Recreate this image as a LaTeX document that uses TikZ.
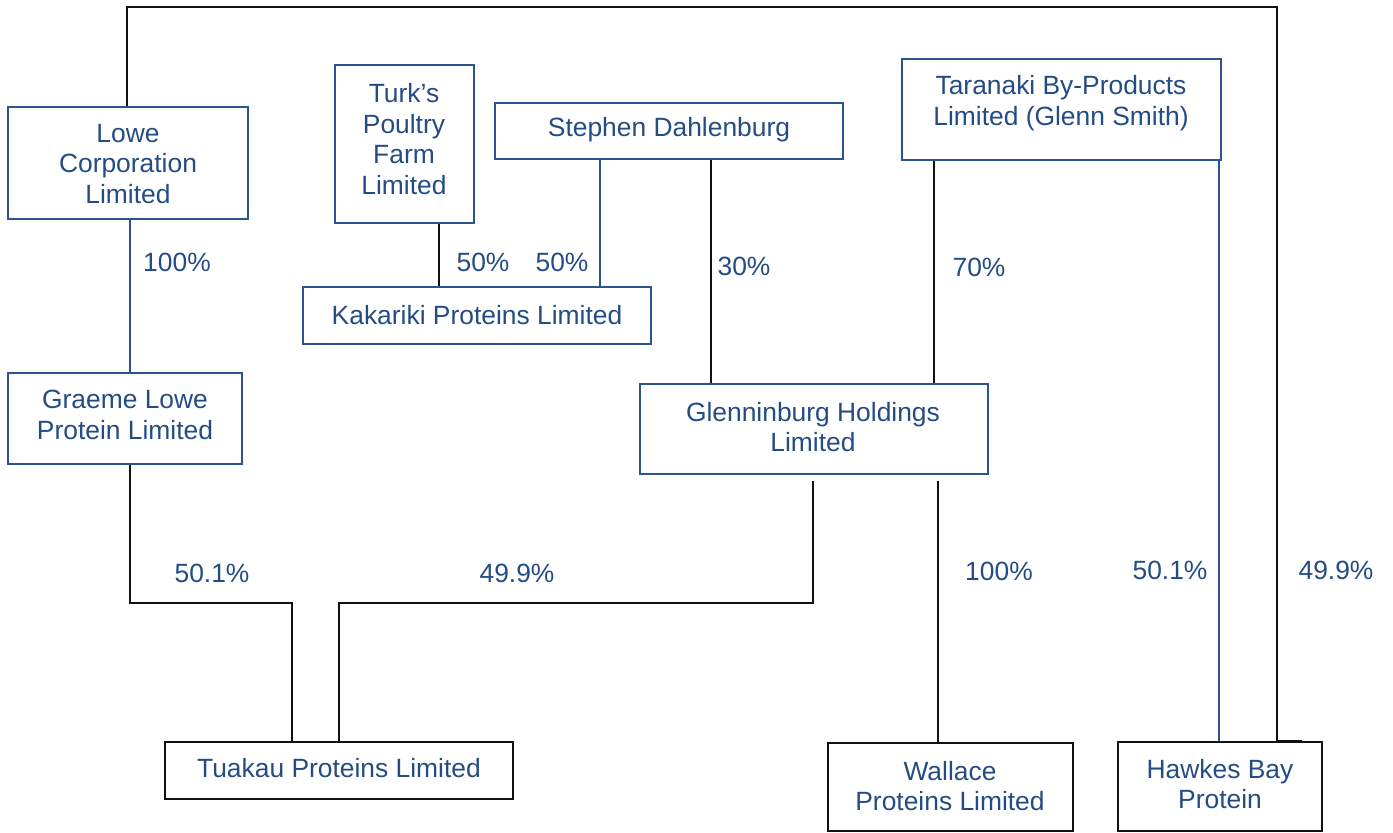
\documentclass[tikz,border=0pt]{standalone}
\usepackage{fontspec}
\setmainfont{Liberation Sans}
\usetikzlibrary{fit}
\definecolor{txtblue}{RGB}{36,76,132}
\definecolor{lineblue}{RGB}{44,84,145}
\definecolor{lineblack}{RGB}{17,17,17}
\begin{document}
\begin{tikzpicture}[x=0.5pt,y=-0.5pt,
  box/.style={draw=lineblue,line width=1pt,inner sep=0pt},
  kbox/.style={box,draw=lineblack},
  txt/.style={text=txtblue,align=center,inner sep=0pt,font=\fontsize{13.2}{15.4}\selectfont},
  bl/.style={draw=lineblue,line width=1pt},
  bk/.style={draw=lineblack,line width=1pt}]
\useasboundingbox (0,0) rectangle (1393,832);
% boxes
\node[box,fit={(8,107)(248,219)}] (lowe) {};
\node[txt] (lowetext) at (128,164) {Lowe\\Corporation\\Limited};
\node[box,fit={(335,65)(474,223)}] (turk) {};
\node[txt] (turktext) at (404,139) {Turk’s\\Poultry\\Farm\\Limited};
\node[box,fit={(495,103)(843,159)}] (steph) {};
\node[txt] (stephtext) at (669,130) {Stephen Dahlenburg};
\node[box,fit={(902,59)(1221,160)}] (tar) {};
\node[txt] (tartext) at (1061,103) {Taranaki By-Products\\Limited (Glenn Smith)};
\node[box,fit={(303,287)(651,344)}] (kak) {};
\node[txt] (kaktext) at (477,315) {Kakariki Proteins Limited};
\node[box,fit={(8,373)(242,464)}] (graeme) {};
\node[txt] (graemetext) at (125,415) {Graeme Lowe\\Protein Limited};
\node[box,fit={(640,384)(988,474)}] (glen) {};
\node[txt] (glentext) at (813,427) {Glenninburg Holdings\\Limited};
\node[kbox,fit={(165,742)(513,799)}] (tuakau) {};
\node[txt] (tuakautext) at (339,768) {Tuakau Proteins Limited};
\node[kbox,fit={(828,743)(1073,831)}] (wallace) {};
\node[txt] (wallacetext) at (950,786) {Wallace\\Proteins Limited};
\node[kbox,fit={(1118,742)(1322,831)}] (hawkes) {};
\node[txt] (hawkestext) at (1220,784) {Hawkes Bay\\Protein};
% column coordinates
\coordinate (x130) at (130,0);
\coordinate (x439) at (439,0);
\coordinate (x600) at (600,0);
\coordinate (x711) at (711,0);
\coordinate (x934) at (934,0);
\coordinate (x1219) at (1219,0);
\coordinate (x938) at (938,0);
\coordinate (x813) at (813,0);
\coordinate (x292) at (292,0);
\coordinate (x339) at (339,0);
\coordinate (topl) at (127,7);
\coordinate (topr) at (1277,7);
\coordinate (stub) at (1302,741);
% connectors
\draw[bk] (lowe.north -| topl) -- (topl) -- (topr) -- (topr |- stub) -- (stub);
\draw[bl] (x130 |- lowe.south) -- (x130 |- graeme.north);
\draw[bk] (x439 |- turk.south) -- (x439 |- kak.north);
\draw[bl] (x600 |- steph.south) -- (x600 |- kak.north);
\draw[bk] (x711 |- steph.south) -- (x711 |- glen.north);
\draw[bk] (x934 |- tar.south) -- (x934 |- glen.north);
\draw[bl] (x1219 |- tar.south) -- (x1219 |- hawkes.north);
\draw[bk] (x130 |- graeme.south) -- (130,603) -- (292,603) -- (x292 |- tuakau.north);
\draw[bk] ([yshift=-3]x813 |- glen.south) -- (813,603) -- (339,603) -- (x339 |- tuakau.north);
\draw[bk] ([yshift=-3]x938 |- glen.south) -- (x938 |- wallace.north);
% labels
\node[txt] (l1) at (177,262) {100\%};
\node[txt] (l2) at (483,262) {50\%};
\node[txt] (l3) at (562,262) {50\%};
\node[txt] (l4) at (744,266) {30\%};
\node[txt] (l5) at (979,267) {70\%};
\node[txt] (l6) at (212,573) {50.1\%};
\node[txt] (l7) at (517,573) {49.9\%};
\node[txt] (l8) at (999,571) {100\%};
\node[txt] (l9) at (1170,570) {50.1\%};
\node[txt] (l10) at (1336,570) {49.9\%};
\end{tikzpicture}
\end{document}
